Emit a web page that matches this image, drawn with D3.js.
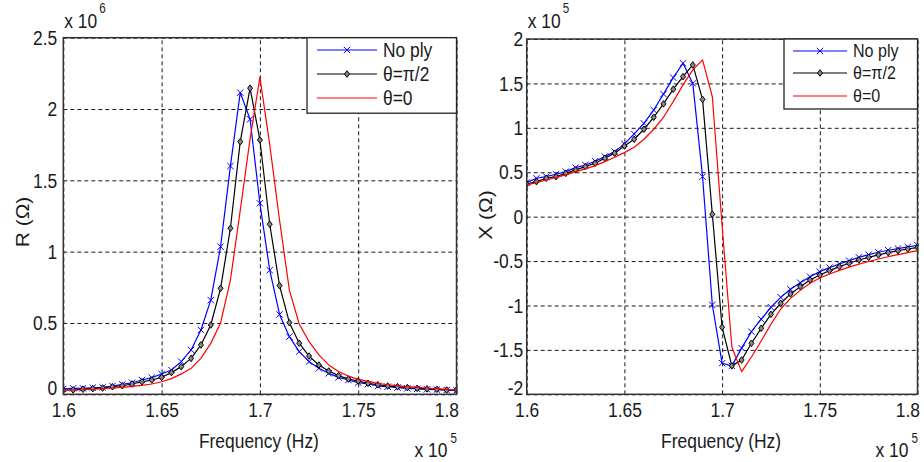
<!DOCTYPE html>
<html><head><meta charset="utf-8">
<script src="https://cdn.jsdelivr.net/npm/d3@7"></script>
<style>
html,body{margin:0;padding:0;background:#fff;}
svg{display:block;}
text{font-family:"Liberation Sans", Arial, Helvetica, sans-serif; fill:#1a1a1a;}
</style></head><body>
<svg id="chart" width="924" height="462"></svg>
<script>
// Frequency (x 10^5 Hz)
const freq = [1.600,1.605,1.610,1.615,1.620,1.625,1.630,1.635,1.640,1.645,1.650,1.655,1.660,1.665,1.670,1.675,1.680,1.685,1.690,1.695,1.700,1.705,1.710,1.715,1.720,1.725,1.730,1.735,1.740,1.745,1.750,1.755,1.760,1.765,1.770,1.775,1.780,1.785,1.790,1.795,1.800];
const seriesNames = ["No ply","θ=π/2","θ=0"];
// R (x 10^6 Ω)
const rNoPly  = [0.038,0.042,0.042,0.047,0.049,0.058,0.070,0.081,0.100,0.117,0.142,0.170,0.229,0.311,0.451,0.660,1.035,1.600,2.115,1.928,1.339,0.870,0.560,0.404,0.299,0.229,0.182,0.147,0.119,0.100,0.082,0.072,0.058,0.053,0.047,0.042,0.038,0.035,0.033,0.030,0.028];
const rHalfPi = [0.030,0.031,0.035,0.040,0.044,0.053,0.060,0.072,0.088,0.100,0.119,0.152,0.194,0.252,0.346,0.486,0.743,1.164,1.771,2.146,1.783,1.192,0.762,0.502,0.358,0.268,0.205,0.163,0.131,0.107,0.093,0.077,0.067,0.058,0.053,0.047,0.042,0.038,0.035,0.030,0.030];
const rZero   = [0.028,0.030,0.032,0.035,0.040,0.044,0.049,0.056,0.063,0.072,0.088,0.110,0.143,0.182,0.252,0.357,0.500,0.800,1.290,1.790,2.223,1.750,1.220,0.730,0.493,0.369,0.276,0.206,0.159,0.128,0.105,0.091,0.077,0.067,0.061,0.054,0.049,0.044,0.040,0.035,0.030];
// X (x 10^5 Ω)
const xNoPly  = [0.383,0.432,0.450,0.477,0.507,0.552,0.582,0.624,0.676,0.732,0.819,0.931,1.050,1.200,1.380,1.565,1.727,1.500,0.450,-0.994,-1.650,-1.680,-1.480,-1.295,-1.155,-1.020,-0.908,-0.818,-0.743,-0.676,-0.619,-0.574,-0.533,-0.495,-0.458,-0.428,-0.401,-0.378,-0.360,-0.341,-0.322];
const xHalfPi = [0.368,0.394,0.432,0.450,0.488,0.526,0.563,0.601,0.657,0.714,0.796,0.871,0.984,1.119,1.270,1.435,1.577,1.708,1.320,0.027,-1.245,-1.680,-1.614,-1.426,-1.257,-1.100,-0.975,-0.870,-0.788,-0.713,-0.657,-0.608,-0.563,-0.525,-0.488,-0.458,-0.431,-0.405,-0.383,-0.364,-0.345];
const xZero   = [0.357,0.383,0.413,0.443,0.470,0.507,0.537,0.574,0.620,0.669,0.721,0.781,0.871,0.984,1.119,1.295,1.483,1.652,1.765,1.350,-0.100,-1.470,-1.745,-1.580,-1.400,-1.210,-1.040,-0.920,-0.830,-0.750,-0.690,-0.645,-0.605,-0.568,-0.535,-0.505,-0.477,-0.451,-0.428,-0.405,-0.383];

const freqTicks = [1.6,1.65,1.7,1.75,1.8];
const freqTickLabels = ["1.6","1.65","1.7","1.75","1.8"];
const rTicks = [0,0.5,1,1.5,2,2.5];
const rTickLabels = ["0","0.5","1","1.5","2","2.5"];
const xTicks = [-2,-1.5,-1,-0.5,0,0.5,1,1.5,2];
const xTickLabels = ["-2","-1.5","-1","-0.5","0","0.5","1","1.5","2"];

const colors = ["#0000ff","#000000","#ff0000"];
const markerTypes = ["x","d",null];
const SX = 0.83;
const FS = 21;

const svg = d3.select("#chart");
const defs = svg.append("defs");

function addText(parent, x, y, str, size, anchor, sx){
  return parent.append("text")
    .attr("transform", `translate(${x},${y}) scale(${sx===undefined?SX:sx},1)`)
    .attr("text-anchor", anchor || "start")
    .style("font-size", size + "px")
    .text(str);
}

function drawMarker(g, type, cx, cy, color){
  if (type === "x") {
    const s = 3.2;
    g.append("path").attr("d", `M${cx-s},${cy-s}L${cx+s},${cy+s}M${cx-s},${cy+s}L${cx+s},${cy-s}`)
      .attr("stroke", color).attr("stroke-width", 1).attr("fill","none");
  } else if (type === "d") {
    const w = 2.5, h = 3.3;
    g.append("path").attr("d", `M${cx},${cy-h}L${cx+w},${cy}L${cx},${cy+h}L${cx-w},${cy}Z`)
      .attr("stroke", color).attr("stroke-width", 1).attr("fill","#888");
  }
}

function panel(cfg){
  const {id, L, R, T, B, clipL, clipR} = cfg;
  defs.append("clipPath").attr("id", id+"-panel").append("rect")
    .attr("x", clipL).attr("y", 0).attr("width", clipR-clipL).attr("height", 462);
  defs.append("clipPath").attr("id", id+"-plot").append("rect")
    .attr("x", L).attr("y", T-1).attr("width", R-L+1).attr("height", B-T+2);
  const g = svg.append("g").attr("clip-path", `url(#${id}-panel)`);
  const x = d3.scaleLinear().domain([1.6,1.8]).range([L,R]);
  const y = d3.scaleLinear().domain([cfg.yTicks[0], cfg.yTicks[cfg.yTicks.length-1]]).range([B,T]);

  // grid
  g.append("g").attr("transform", `translate(0,${B})`)
    .call(d3.axisBottom(x).tickValues(freqTicks).tickSize(-(B-T)).tickFormat(""))
    .call(s => { s.select(".domain").remove();
      s.selectAll("line").attr("stroke","#1a1a1a").attr("stroke-width",1).attr("stroke-dasharray","4,3"); });
  g.append("g").attr("transform", `translate(${L},0)`)
    .call(d3.axisLeft(y).tickValues(cfg.yTicks).tickSize(-(R-L)).tickFormat(""))
    .call(s => { s.select(".domain").remove();
      s.selectAll("line").attr("stroke","#1a1a1a").attr("stroke-width",1).attr("stroke-dasharray","4,3"); });

  // tick labels via axes
  const ax = g.append("g").attr("transform", `translate(0,${B})`)
    .call(d3.axisBottom(x).tickValues(freqTicks).tickSize(0).tickPadding(8)
      .tickFormat((d,i) => freqTickLabels[i]));
  ax.select(".domain").remove();
  ax.selectAll("text").style("font-size", FS+"px").attr("fill","#1a1a1a")
    .attr("transform", `scale(${SX},1)`)
    .style("font-family", '"Liberation Sans", Arial, sans-serif');
  ax.selectAll("text").filter((d,i) => i === freqTicks.length-1)
    .attr("text-anchor","end").attr("x", 2/SX);

  const ay = g.append("g").attr("transform", `translate(${L},0)`)
    .call(d3.axisLeft(y).tickValues(cfg.yTicks).tickSize(0)
      .tickFormat((d,i) => cfg.yLabels[i]));
  ay.select(".domain").remove();
  ay.selectAll("text").style("font-size", FS+"px").attr("fill","#1a1a1a")
    .attr("x", -cfg.ypad/SX)
    .attr("transform", `scale(${SX},1)`)
    .style("font-family", '"Liberation Sans", Arial, sans-serif');
  ay.selectAll("text").filter((d,i) => i === 0).attr("dy", "0.02em");

  // data
  const pg = g.append("g").attr("clip-path", `url(#${id}-plot)`);
  const line = d3.line().x((d,i) => x(freq[i])).y(d => y(d));
  cfg.series.forEach((vals, k) => {
    pg.append("path").datum(vals).attr("d", line)
      .attr("fill","none").attr("stroke", colors[k]).attr("stroke-width", 1.2)
      .attr("stroke-linejoin","round");
    if (markerTypes[k]) {
      const mg = pg.append("g");
      vals.forEach((v,i) => drawMarker(mg, markerTypes[k], x(freq[i]), y(v), colors[k]));
    }
  });

  // box
  g.append("rect").attr("x", L).attr("y", T).attr("width", R-L).attr("height", B-T)
    .attr("fill","none").attr("stroke","#333").attr("stroke-width",1.5);

  // legend
  const lg = cfg.legend;
  g.append("rect").attr("x", lg.x).attr("y", lg.y).attr("width", lg.w).attr("height", lg.h)
    .attr("fill","#fff").attr("stroke","#222").attr("stroke-width",1.3);
  seriesNames.forEach((name, k) => {
    const yy = lg.rows[k];
    g.append("line").attr("x1", lg.lx0).attr("x2", lg.lx1).attr("y1", yy).attr("y2", yy)
      .attr("stroke", colors[k]).attr("stroke-width", 1.2);
    if (markerTypes[k]) drawMarker(g, markerTypes[k], (lg.lx0+lg.lx1)/2, yy, colors[k]);
    addText(g, lg.tx, yy + lg.fs*0.33, name, lg.fs, "start", 0.87);
  });

  // axis titles
  addText(g, (L+R)/2 - 1, 448, "Frequency (Hz)", FS, "middle");
  g.append("text")
    .attr("transform", `translate(${cfg.ylabX},${cfg.ylabY}) rotate(-90) scale(1,${SX})`)
    .attr("text-anchor","middle").style("font-size", FS+"px").text(cfg.ylabel);

  // exponent labels
  addText(g, L + 1, 28, "x 10", FS, "start");
  addText(g, L + 36, 13, cfg.topExp, 14, "start");
  addText(g, R - 42, 457, "x 10", FS, "start");
  addText(g, R - 6, 443, "5", 14, "start");
}

panel({
  id:"pr", L:63.3, R:456.5, T:37.7, B:394.3, clipL:0, clipR:459,
  yTicks: rTicks, yLabels: rTickLabels, ypad: 6,
  series: [rNoPly, rHalfPi, rZero],
  legend: {x:307, y:37.7, w:149.5, h:75.5, rows:[50,74,98], lx0:317, lx1:377, tx:383, fs:20},
  ylabel: "R (Ω)", ylabX: 29, ylabY: 222, topExp: "6"
});
panel({
  id:"px", L:526.7, R:917.5, T:39, B:394.3, clipL:460, clipR:924,
  yTicks: xTicks, yLabels: xTickLabels, ypad: 3.5,
  series: [xNoPly, xHalfPi, xZero],
  legend: {x:784, y:39, w:133.5, h:70, rows:[51,73,96], lx0:793, lx1:847, tx:853, fs:18.5},
  ylabel: "X (Ω)", ylabX: 492, ylabY: 215, topExp: "5"
});
</script>
</body></html>
